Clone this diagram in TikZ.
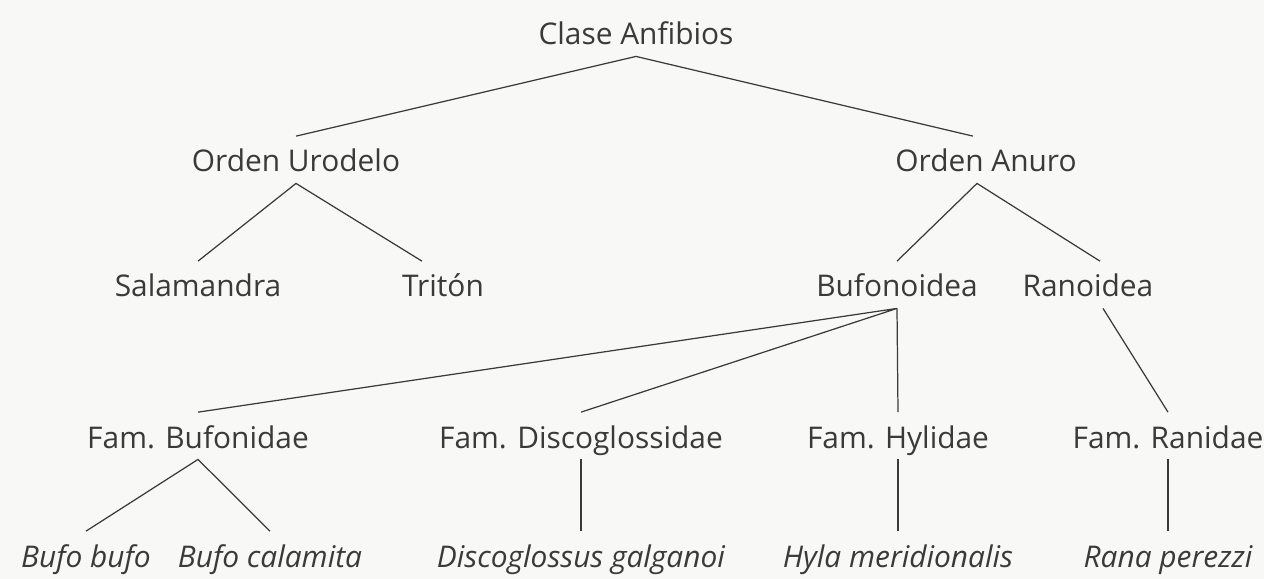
\documentclass[tikz,border=0pt]{standalone}
\usepackage{fontspec}
\setmainfont{Open Sans}
\usepackage{xcolor}
\usepackage{tikz}

\definecolor{ink}{HTML}{3A3A3A}
\definecolor{paper}{HTML}{F8F8F6}

\begin{document}
\begin{tikzpicture}[every node/.style={font=\fontsize{17}{20}\selectfont, text=ink, anchor=base,
    inner xsep=0pt, inner ysep=6pt, text height=14.2pt, text depth=0.3pt},
  species/.style={font=\fontsize{17}{20}\selectfont\itshape},
  branch/.style={draw=ink, line width=0.7pt}]
  \fill[paper] (0,0) rectangle (25.28,-11.58);
  \useasboundingbox (0,0) rectangle (25.28,-11.58);

  % clase y ordenes
  \node (anf) at (12.72,-0.9)  {Clase Anfibios};
  \node (uro) at (5.92,-3.44)  {Orden Urodelo};
  \node (anu) at (19.72,-3.44) {Orden Anuro};

  % subordenes
  \node (sal)  at (3.96,-5.94)  {Salamandra};
  \node (tri)  at (8.86,-5.94)  {Tritón};
  \node (bufo) at (17.94,-5.94) {Bufonoidea};
  \node (rano) at (21.76,-5.94) {Ranoidea};

  % familias
  \node (fbuf) at (3.96,-8.96)  {Fam. Bufonidae};
  \node (fdis) at (11.62,-8.96) {Fam. Discoglossidae};
  \node (fhyl) at (17.96,-8.96) {Fam. Hylidae};
  \node (fran) at (23.36,-8.96) {Fam. Ranidae};

  % especies
  \node[species] (bb) at (1.72,-11.34)  {Bufo bufo};
  \node[species] (bc) at (5.40,-11.34)  {Bufo calamita};
  \node[species] (dg) at (11.62,-11.34) {Discoglossus galganoi};
  \node[species] (hm) at (17.96,-11.34) {Hyla meridionalis};
  \node[species] (rp) at (23.36,-11.34) {Rana perezzi};

  \draw[branch] (uro.north) -- (anf.south) -- ([xshift=-0.26cm]anu.north);
  \draw[branch] (sal.north) -- (uro.south) -- ([xshift=-0.42cm]tri.north);
  \draw[branch] (bufo.north) -- ([xshift=-0.18cm]anu.south) -- ([xshift=0.24cm]rano.north);
  \draw[branch] (fbuf.north) -- (bufo.south) -- (fdis.north);
  \draw[branch] (bufo.south) -- (fhyl.north);
  \draw[branch] ([xshift=0.3cm]rano.south) -- (fran.north);
  \draw[branch] (bb.north) -- (fbuf.south) -- (bc.north);
  \draw[branch] (fdis.south) -- (dg.north);
  \draw[branch] (fhyl.south) -- (hm.north);
  \draw[branch] (fran.south) -- (rp.north);
\end{tikzpicture}
\end{document}
